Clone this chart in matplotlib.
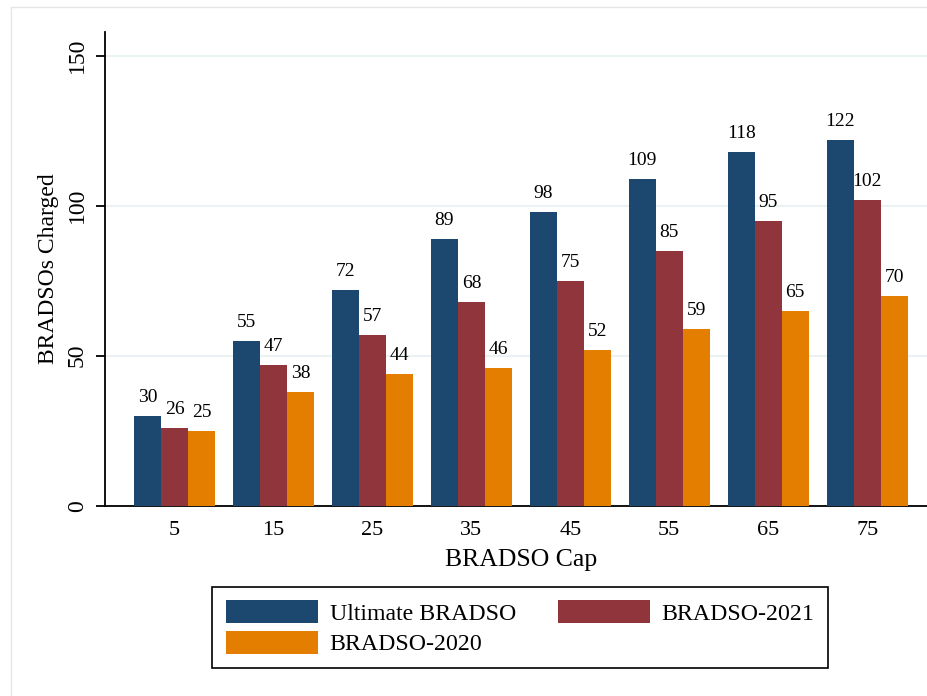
import matplotlib
matplotlib.use("Agg")
import matplotlib.pyplot as plt
from matplotlib.lines import Line2D
import numpy as np

plt.rcParams['font.family'] = ['Liberation Serif', 'DejaVu Serif']

caps = ['5', '15', '25', '35', '45', '55', '65', '75']
ultimate = [30, 55, 72, 89, 98, 109, 118, 122]
bradso_2021 = [26, 47, 57, 68, 75, 85, 95, 102]
bradso_2020 = [25, 38, 44, 46, 52, 59, 65, 70]

blue = '#1c476f'
red = '#90353b'
orange = '#e37e00'

W, H = 927, 696
fig = plt.figure(figsize=(W / 100, H / 100), dpi=100)

# axes box in pixel terms of the reference
left, right, top, bottom = 105, 927, 31.7, 505.7
ax = fig.add_axes([left / W, 1 - bottom / H, (right - left) / W, (bottom - top) / H])

x = np.arange(len(caps))
bw = 27 / 98.96
b1 = ax.bar(x - bw, ultimate, bw, color=blue, label='Ultimate BRADSO', zorder=3)
b2 = ax.bar(x, bradso_2021, bw, color=red, label='BRADSO-2021', zorder=3)
b3 = ax.bar(x + bw, bradso_2020, bw, color=orange, label='BRADSO-2020', zorder=3)

for bars in (b1, b2, b3):
    ax.bar_label(bars, padding=7, fontsize=14)

ax.set_xlim((left - 174.5) / 98.96, (right - 174.5) / 98.96)
ax.set_ylim(0, 158)
ax.set_yticks([0, 50, 100, 150])
ax.set_xticks(x)
ax.set_xticklabels(caps)

ax.grid(axis='y', color='#eaf2f3', linewidth=1.5, zorder=0)
ax.spines['top'].set_visible(False)
ax.spines['right'].set_visible(False)
ax.spines['left'].set_linewidth(1.3)
ax.spines['bottom'].set_linewidth(1.3)

ax.tick_params(axis='x', length=0, pad=11, labelsize=16)
ax.tick_params(axis='y', length=6.5, width=1.3, pad=6, labelsize=17, direction='out')
for lbl in ax.get_yticklabels():
    lbl.set_rotation(90)
    lbl.set_va('center')

fig.text(49 / W, 1 - 268.7 / H, 'BRADSOs Charged', fontsize=17, rotation=90,
         ha='center', va='center')
fig.text(521 / W, 1 - 560 / H, 'BRADSO Cap', fontsize=18.5, ha='center', va='center')

# legend, order chosen so row 1 is Ultimate | 2021
handles = [b1, b3, b2]
labels = ['Ultimate BRADSO', 'BRADSO-2020', 'BRADSO-2021']
leg = fig.legend(handles, labels, ncol=2, loc='upper center',
                 bbox_to_anchor=(520 / W, 1 - 587 / H), borderaxespad=0,
                 fontsize=17.2, fancybox=False, edgecolor='black', framealpha=1,
                 handlelength=3.85, handleheight=1.1, handletextpad=0.5,
                 columnspacing=1.75, borderpad=0.55, labelspacing=0.25)
leg.get_frame().set_linewidth(1.2)

# faint outer graph border (left and top only visible in crop)
fig.add_artist(Line2D([11 / W, 11 / W], [0, 1 - 7 / H], color='#e6e6e6', linewidth=1))
fig.add_artist(Line2D([11 / W, 1], [1 - 7 / H, 1 - 7 / H], color='#e6e6e6', linewidth=1))

fig.savefig('out.png', dpi=100)
